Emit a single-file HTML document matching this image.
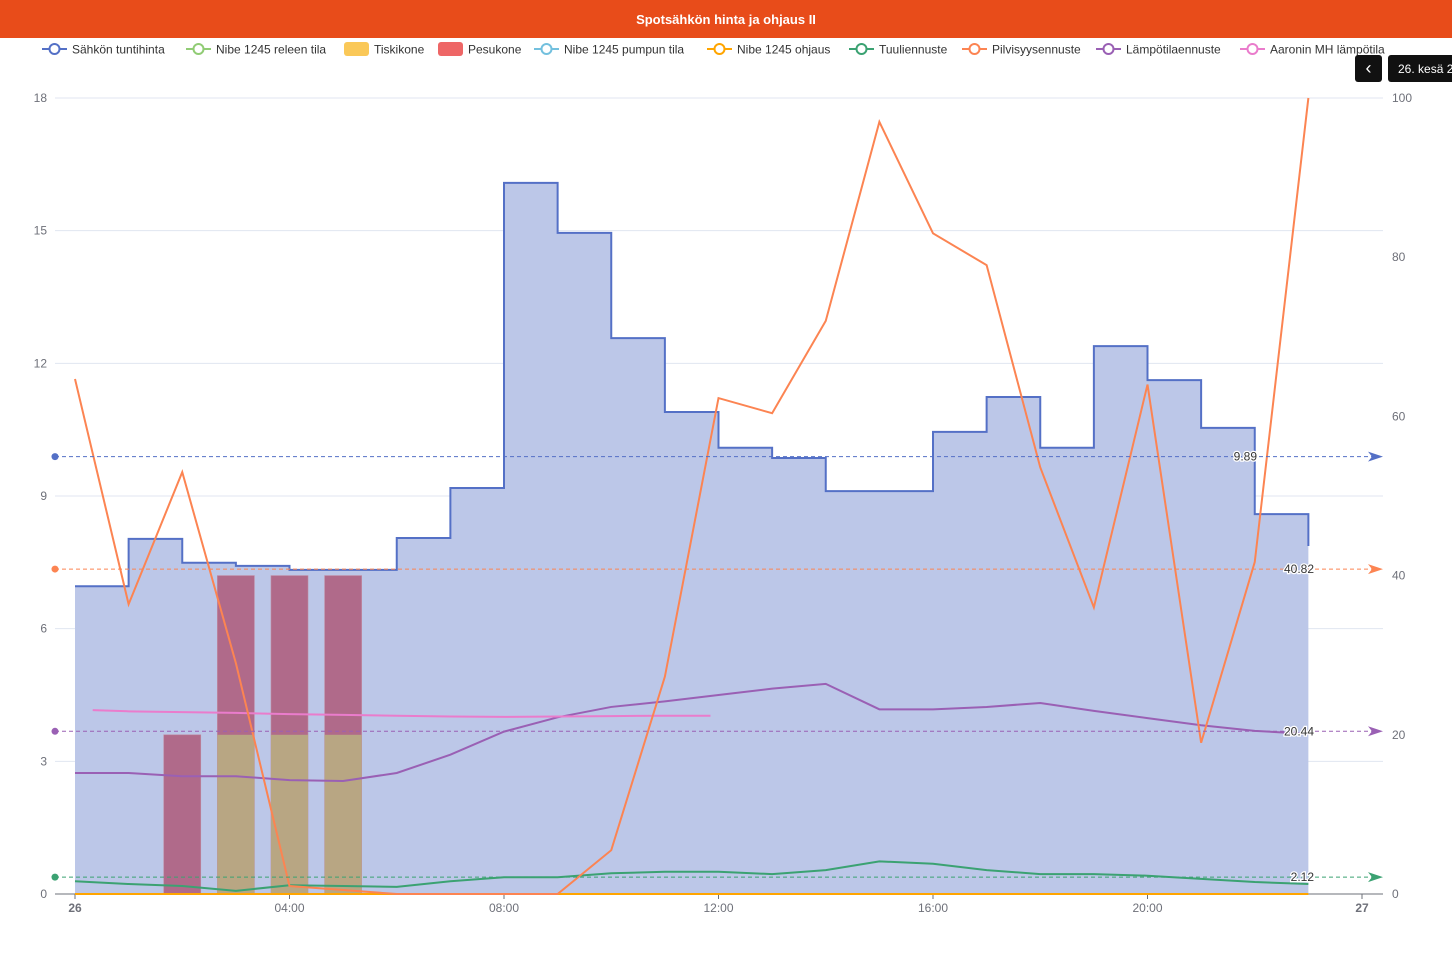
<!DOCTYPE html>
<html><head><meta charset="utf-8">
<style>
body{margin:0;width:1452px;height:965px;background:#fff;overflow:hidden;font-family:"Liberation Sans",sans-serif;}
#title{position:absolute;left:0;top:0;width:1452px;height:38px;background:#e84c1a;color:#fff;font-size:13px;font-weight:600;text-align:center;line-height:40px;}
svg{position:absolute;left:0;top:0;}
#btn{position:absolute;left:1355px;top:55px;width:27px;height:27px;background:#111;border-radius:3px;color:#fff;font-size:18px;text-align:center;line-height:26px;}
#tip{position:absolute;left:1388px;top:55px;width:80px;height:27px;background:#111;border-radius:3px;color:#fff;font-size:12px;line-height:28px;padding-left:10px;white-space:nowrap;}
</style></head><body>
<div id="title">Spotsähkön hinta ja ohjaus II</div>
<svg id="chart" width="1452" height="965"></svg>
<div id="btn">‹</div>
<div id="tip">26. kesä 2025</div>
<script>
const hours=[0,1,2,3,4,5,6,7,8,9,10,11,12,13,14,15,16,17,18,19,20,21,22,23];
const price=[6.96,8.03,7.49,7.42,7.33,7.33,8.05,9.18,16.08,14.95,12.57,10.9,10.09,9.86,9.11,9.11,10.45,11.24,10.09,12.39,11.62,10.54,8.59,7.87];
const cloud=[64.7,36.4,53,29,1,0.5,0,0,0,0,5.5,27.3,62.3,60.4,72,97,83,79,53.6,36,64,19,41.7,100];
const temp=[15.2,15.2,14.8,14.8,14.3,14.2,15.2,17.5,20.4,22.2,23.5,24.2,25,25.8,26.4,23.2,23.2,23.5,24,23,22.1,21.2,20.5,20.1];
const wind=[1.6,1.25,1.0,0.4,1.1,1.0,0.9,1.6,2.1,2.1,2.6,2.8,2.8,2.5,3,4.1,3.8,3,2.5,2.5,2.3,1.9,1.5,1.25];
const roomHours=[0.33,1,2,3,4,5,6,7,8,9,10,11,11.85];
const roomTemp=[23.1,22.95,22.85,22.75,22.6,22.5,22.4,22.3,22.25,22.3,22.35,22.4,22.4];
const barHours=[2,3,4,5];
const washer=[3.6,7.2,7.2,7.2];
const dishwasher=[0,3.6,3.6,3.6];
const leftTicks=[0,3,6,9,12,15,18];
const rightTicks=[0,20,40,60,80,100];
const xTickHours=[0,4,8,12,16,20,24];
const xTickLabels=["26","04:00","08:00","12:00","16:00","20:00","27"];
const markValues=[9.89,40.82,20.44,2.12];
const markAxes=["L","R","R","R"];
const markColors=["#5470c6","#fc8452","#9a60b4","#3ba272"];

const X=h=>75+h*(1362-75)/24;
const YL=v=>894-v*(894-98)/18;
const YR=v=>894-v*(894-98)/100;
const svg=document.getElementById('chart');
const NS='http://www.w3.org/2000/svg';
function mk(tag,attrs,parent){const e=document.createElementNS(NS,tag);for(const k in attrs)e.setAttribute(k,attrs[k]);(parent||svg).appendChild(e);return e;}

leftTicks.forEach(v=>{
  const g=mk('line',{x1:55,x2:1383,y1:YL(v),y2:YL(v),stroke:v===0?'#6e7079':'#e0e6f1','stroke-width':1});
  
  
  const t=mk('text',{x:47,y:YL(v)+4,'text-anchor':'end','font-size':12,fill:'#6e7079'});
  t.textContent=v;
  
  
});
rightTicks.forEach(v=>{
  const t=mk('text',{x:1392,y:YR(v)+4,'font-size':12,fill:'#6e7079'});
  t.textContent=v;
  
  
});
xTickHours.forEach((h,i)=>{
  mk('line',{x1:X(h),x2:X(h),y1:894,y2:899,stroke:'#6e7079'});
  const t=mk('text',{x:X(h),y:912,'text-anchor':'middle','font-size':12,fill:'#6e7079','font-weight':(i===0||i===6)?'bold':'normal'});
  t.textContent=xTickLabels[i];
  
  
});

let d='M'+X(0)+','+YL(price[0]);
for(let i=1;i<price.length;i++){d+=' L'+X(hours[i])+','+YL(price[i-1])+' L'+X(hours[i])+','+YL(price[i]);}
const area=mk('path',{d:d+' L'+X(23)+',894 L'+X(0)+',894 Z',fill:'#bcc7e8'});



barHours.forEach((h,i)=>{
  if(washer[i]>0){const r=mk('rect',{x:X(h)-18.5,y:YL(washer[i]),width:37,height:894-YL(washer[i]),fill:'#b06a8a',stroke:'#c08aa0','stroke-width':0.6});
  
  }
  if(dishwasher[i]>0){const r=mk('rect',{x:X(h)-18.5,y:YL(dishwasher[i]),width:37,height:894-YL(dishwasher[i]),fill:'#b8a683'});
  
  }
});

const pl=mk('path',{d:d,fill:'none',stroke:'#5470c6','stroke-width':2});



function line(hs,vs,Y,color,name){
  const p=mk('polyline',{points:hs.map((h,i)=>X(h)+','+Y(vs[i])).join(' '),fill:'none',stroke:color,'stroke-width':2});
  
  
}
const zeros=hours.map(()=>0);
line(hours,zeros,YR,'#ffa500','nibe-control-line');
line(hours,wind,YR,'#3ba272','wind-forecast-line');
line(hours,temp,YR,'#9a60b4','temperature-forecast-line');
line(roomHours,roomTemp,YR,'#ea7ccc','room-temperature-line');
line(hours,cloud,YR,'#fc8452','cloud-forecast-line');

markValues.forEach((v,i)=>{
  const y=markAxes[i]==='L'?YL(v):YR(v),c=markColors[i];
  mk('line',{x1:55,x2:1372,y1:y,y2:y,stroke:c,'stroke-dasharray':'4 3','stroke-width':1});
  mk('circle',{cx:55,cy:y,r:3.5,fill:c});
  const a=mk('path',{d:`M1368,${y-5} L1383,${y} L1368,${y+5} L1372,${y} Z`,fill:c});
  
  
  const t=mk('text',{x:i===0?1257:1314,y:y+4,'text-anchor':'end','font-size':12,fill:'#333',stroke:'#fff','stroke-width':2.5,'paint-order':'stroke'});
  t.textContent=v.toFixed(2);
  
  
});

const legend=[["Sähkön tuntihinta","#5470c6","l",42],["Nibe 1245 releen tila","#91cc75","l",186],["Tiskikone","#fac858","r",344],["Pesukone","#ee6666","r",438],["Nibe 1245 pumpun tila","#73c0de","l",534],["Nibe 1245 ohjaus","#ffa500","l",707],["Tuuliennuste","#3ba272","l",849],["Pilvisyysennuste","#fc8452","l",962],["Lämpötilaennuste","#9a60b4","l",1096],["Aaronin MH lämpötila","#ea7ccc","l",1240]];
legend.forEach(([n,c,type,x])=>{
  const g=mk('g',{});
  
  
  if(type==='l'){mk('line',{x1:x,x2:x+25,y1:49,y2:49,stroke:c,'stroke-width':2},g);mk('circle',{cx:x+12.5,cy:49,r:5,fill:'#fff',stroke:c,'stroke-width':2},g);}
  else mk('rect',{x:x,y:42,width:25,height:14,rx:3,fill:c},g);
  const t=mk('text',{x:x+30,y:53.5,'font-size':12,fill:'#333'},g);t.textContent=n;
});
</script>
</body></html>
